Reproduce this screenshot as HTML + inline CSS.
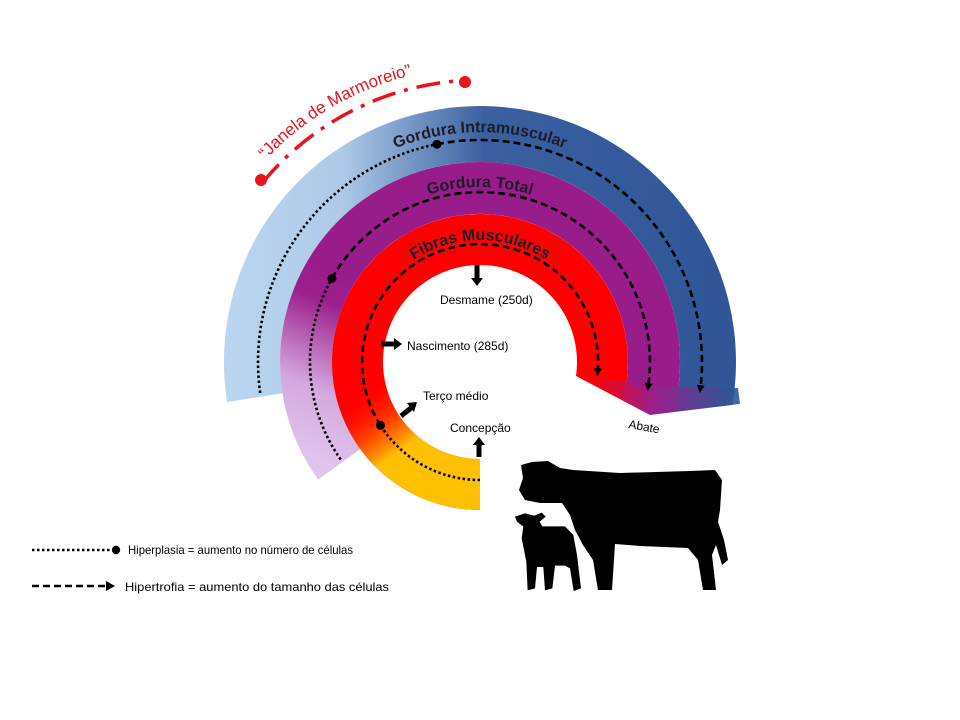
<!DOCTYPE html>
<html><head><meta charset="utf-8"><style>
html,body{margin:0;padding:0;background:#fff;}
svg{display:block;font-family:"Liberation Sans",sans-serif;}
</style></head><body>
<svg width="960" height="720" viewBox="0 0 960 720" xmlns="http://www.w3.org/2000/svg">
<defs>
<linearGradient id="gb" gradientUnits="userSpaceOnUse" x1="230" y1="0" x2="740" y2="0">
<stop offset="0" stop-color="#bad5ef"/><stop offset="0.22" stop-color="#adcae8"/><stop offset="0.5" stop-color="#3a60a0"/><stop offset="1" stop-color="#2f5597"/>
</linearGradient>
<linearGradient id="gp" gradientUnits="userSpaceOnUse" x1="330" y1="465" x2="400" y2="290">
<stop offset="0" stop-color="#dfc4ee"/><stop offset="0.35" stop-color="#d4a8de"/><stop offset="0.8" stop-color="#9b1f8c"/><stop offset="1" stop-color="#981c8a"/>
</linearGradient>
<linearGradient id="gy" gradientUnits="userSpaceOnUse" x1="440" y1="480" x2="370" y2="385">
<stop offset="0" stop-color="#ffc000" stop-opacity="1"/><stop offset="0.4" stop-color="#ffc000" stop-opacity="1"/><stop offset="0.6" stop-color="#ff8000" stop-opacity="0.7"/><stop offset="1" stop-color="#ff0000" stop-opacity="0"/>
</linearGradient>
<linearGradient id="gw" gradientUnits="userSpaceOnUse" x1="590" y1="0" x2="730" y2="0">
<stop offset="0" stop-color="#ff0000"/><stop offset="0.45" stop-color="#9b1f8c"/><stop offset="1" stop-color="#2f5597"/>
</linearGradient>
<marker id="ah" markerWidth="8" markerHeight="8" refX="4" refY="4" orient="auto" markerUnits="userSpaceOnUse">
<path d="M0,0 L8,4 L0,8 Z" fill="#000"/>
</marker>
<path id="tpB" d="M250,362 A230,230 0 0 1 710,362"/>
<path id="tpP" d="M305,362 A175,175 0 0 1 655,362"/>
<path id="tpR" d="M358,362 A122,122 0 0 1 602,362"/>
<path id="tpM" d="M202.8,261.1 A296,296 0 0 1 531.2,71.5"/>
</defs>

<!-- rings -->
<path d="M227.1,402 A256,256 0 1 1 712,470.2 L661.3,446.5 A200,200 0 1 0 282.5,393.3 Z" fill="url(#gb)"/>
<path d="M318.2,479.6 A200,200 0 1 1 661.3,446.5 L614.1,424.5 A148,148 0 1 0 360.3,449 Z" fill="url(#gp)"/>
<path d="M480,510 A148,148 0 1 1 614.1,424.5 L567.9,403 A97,97 0 1 0 480,459 Z" fill="#ff0000"/>
<path d="M480,510 A148,148 0 0 1 332,362 L383,362 A97,97 0 0 0 480,459 Z" fill="url(#gy)"/>
<!-- wedge -->
<path d="M576,376 L650,415 L740,404 L738,388 L640,386 L580,372 Z" fill="url(#gw)" opacity="0.9"/>
<!-- white cut -->
<path d="M560,376 L576,376 L650,415 L740,404 L780,404 L780,530 L560,530 Z" fill="#fff"/>

<!-- ring labels -->
<g font-weight="bold" font-size="16" fill="#1c1c2a">
<text><textPath href="#tpB" startOffset="50%" text-anchor="middle">Gordura Intramuscular</textPath></text>
<text><textPath href="#tpP" startOffset="50%" text-anchor="middle">Gordura Total</textPath></text>
<text><textPath href="#tpR" startOffset="50%" text-anchor="middle">Fibras Musculares</textPath></text>
</g>

<!-- hyperplasia / hypertrophy arcs -->
<g fill="none" stroke="#000" stroke-width="2.6">
<path d="M260.2,392.9 A222,222 0 0 1 436.9,144.2" stroke-dasharray="2.5 2.5"/>
<path d="M436.9,144.2 A222,222 0 0 1 700.3,389.1" stroke-dasharray="7 4" marker-end="url(#ah)"/>
<path d="M340.7,459.5 A170,170 0 0 1 331.9,278.5" stroke-dasharray="2.5 2.5"/>
<path d="M331.9,278.5 A170,170 0 0 1 648.1,387.1" stroke-dasharray="7 4" marker-end="url(#ah)"/>
<path d="M480,480 A118,118 0 0 1 380.5,425.4" stroke-dasharray="2.5 2.5"/>
<path d="M380.5,425.4 A118,118 0 1 1 597.6,372.3" stroke-dasharray="7 4" marker-end="url(#ah)"/>
</g>
<circle cx="436.9" cy="144.2" r="4.5"/>
<circle cx="331.9" cy="278.5" r="4.5"/>
<circle cx="380.5" cy="425.4" r="4.5"/>

<!-- marmoreio -->
<path d="M262.7,182.3 A283,283 0 0 1 464.8,80.4" fill="none" stroke="#e8141c" stroke-width="3.5" stroke-dasharray="24 9 4 9"/>
<circle cx="261" cy="180" r="6" fill="#e8141c"/>
<circle cx="465" cy="82" r="6" fill="#e8141c"/>
<text font-size="17" fill="#e8141c"><textPath href="#tpM" startOffset="50%" text-anchor="middle">“Janela de Marmoreio”</textPath></text>

<!-- inner arrows -->
<g fill="#000" stroke="#000">
<line x1="477" y1="265" x2="477" y2="279" stroke-width="5"/><path d="M471,278 L483,278 L477,286 Z" stroke="none"/>
<line x1="381" y1="344" x2="395" y2="344" stroke-width="5"/><path d="M394,338 L402,344 L394,350 Z" stroke="none"/>
<line x1="401" y1="416" x2="411" y2="408" stroke-width="5"/><path d="M407,403 L417,402 L414,412 Z" stroke="none"/>
<line x1="479" y1="457" x2="479" y2="444" stroke-width="5"/><path d="M473,445 L485,445 L479,437 Z" stroke="none"/>
</g>
<g font-size="12" fill="#000">
<text x="440" y="304">Desmame (250d)</text>
<text x="407" y="350">Nascimento (285d)</text>
<text x="423" y="400">Terço médio</text>
<text x="450" y="432">Concepção</text>
<text x="628" y="428" transform="rotate(10 628 428)">Abate</text>
</g>

<!-- legend -->
<line x1="32" y1="550" x2="110" y2="550" stroke="#000" stroke-width="2.6" stroke-dasharray="2.5 2.5"/>
<circle cx="116" cy="550" r="4.2"/>
<text x="128" y="554" font-size="12" textLength="225" lengthAdjust="spacingAndGlyphs">Hiperplasia = aumento no número de células</text>
<line x1="32" y1="586" x2="106" y2="586" stroke="#000" stroke-width="2.6" stroke-dasharray="7 4"/>
<path d="M106,581 L115,586 L106,591 Z"/>
<text x="125" y="591" font-size="12" textLength="264" lengthAdjust="spacingAndGlyphs">Hipertrofia = aumento do tamanho das células</text>

<!-- cows -->
<path fill="#000" d="M521,465 L532,462 L548,461 L560,468 L573,470 L620,473 L690,471 L715,470 L722,480 L720,510 L718,522 L724,540 L728,560 L722,565 L716,545 L712,555 L716,590 L703,590 L698,560 L688,548 L640,546 L615,544 L612,590 L598,590 L593,560 L583,545 L575,530 L570,515 L562,503 L540,503 L525,500 L519,490 L523,478 Z"/>
<g transform="translate(505,455) scale(0.3333)" fill="#000">
<path d="M30,185 L60,175 L88,182 L110,173 L122,185 L104,200 L112,214 L180,214 L205,240 L216,300 L228,400 L206,408 L195,340 L180,332 L150,332 L142,400 L120,406 L115,336 L96,336 L90,400 L68,406 L64,320 L50,250 L55,215 L36,200 Z"/>
</g>
</svg>
</body></html>
